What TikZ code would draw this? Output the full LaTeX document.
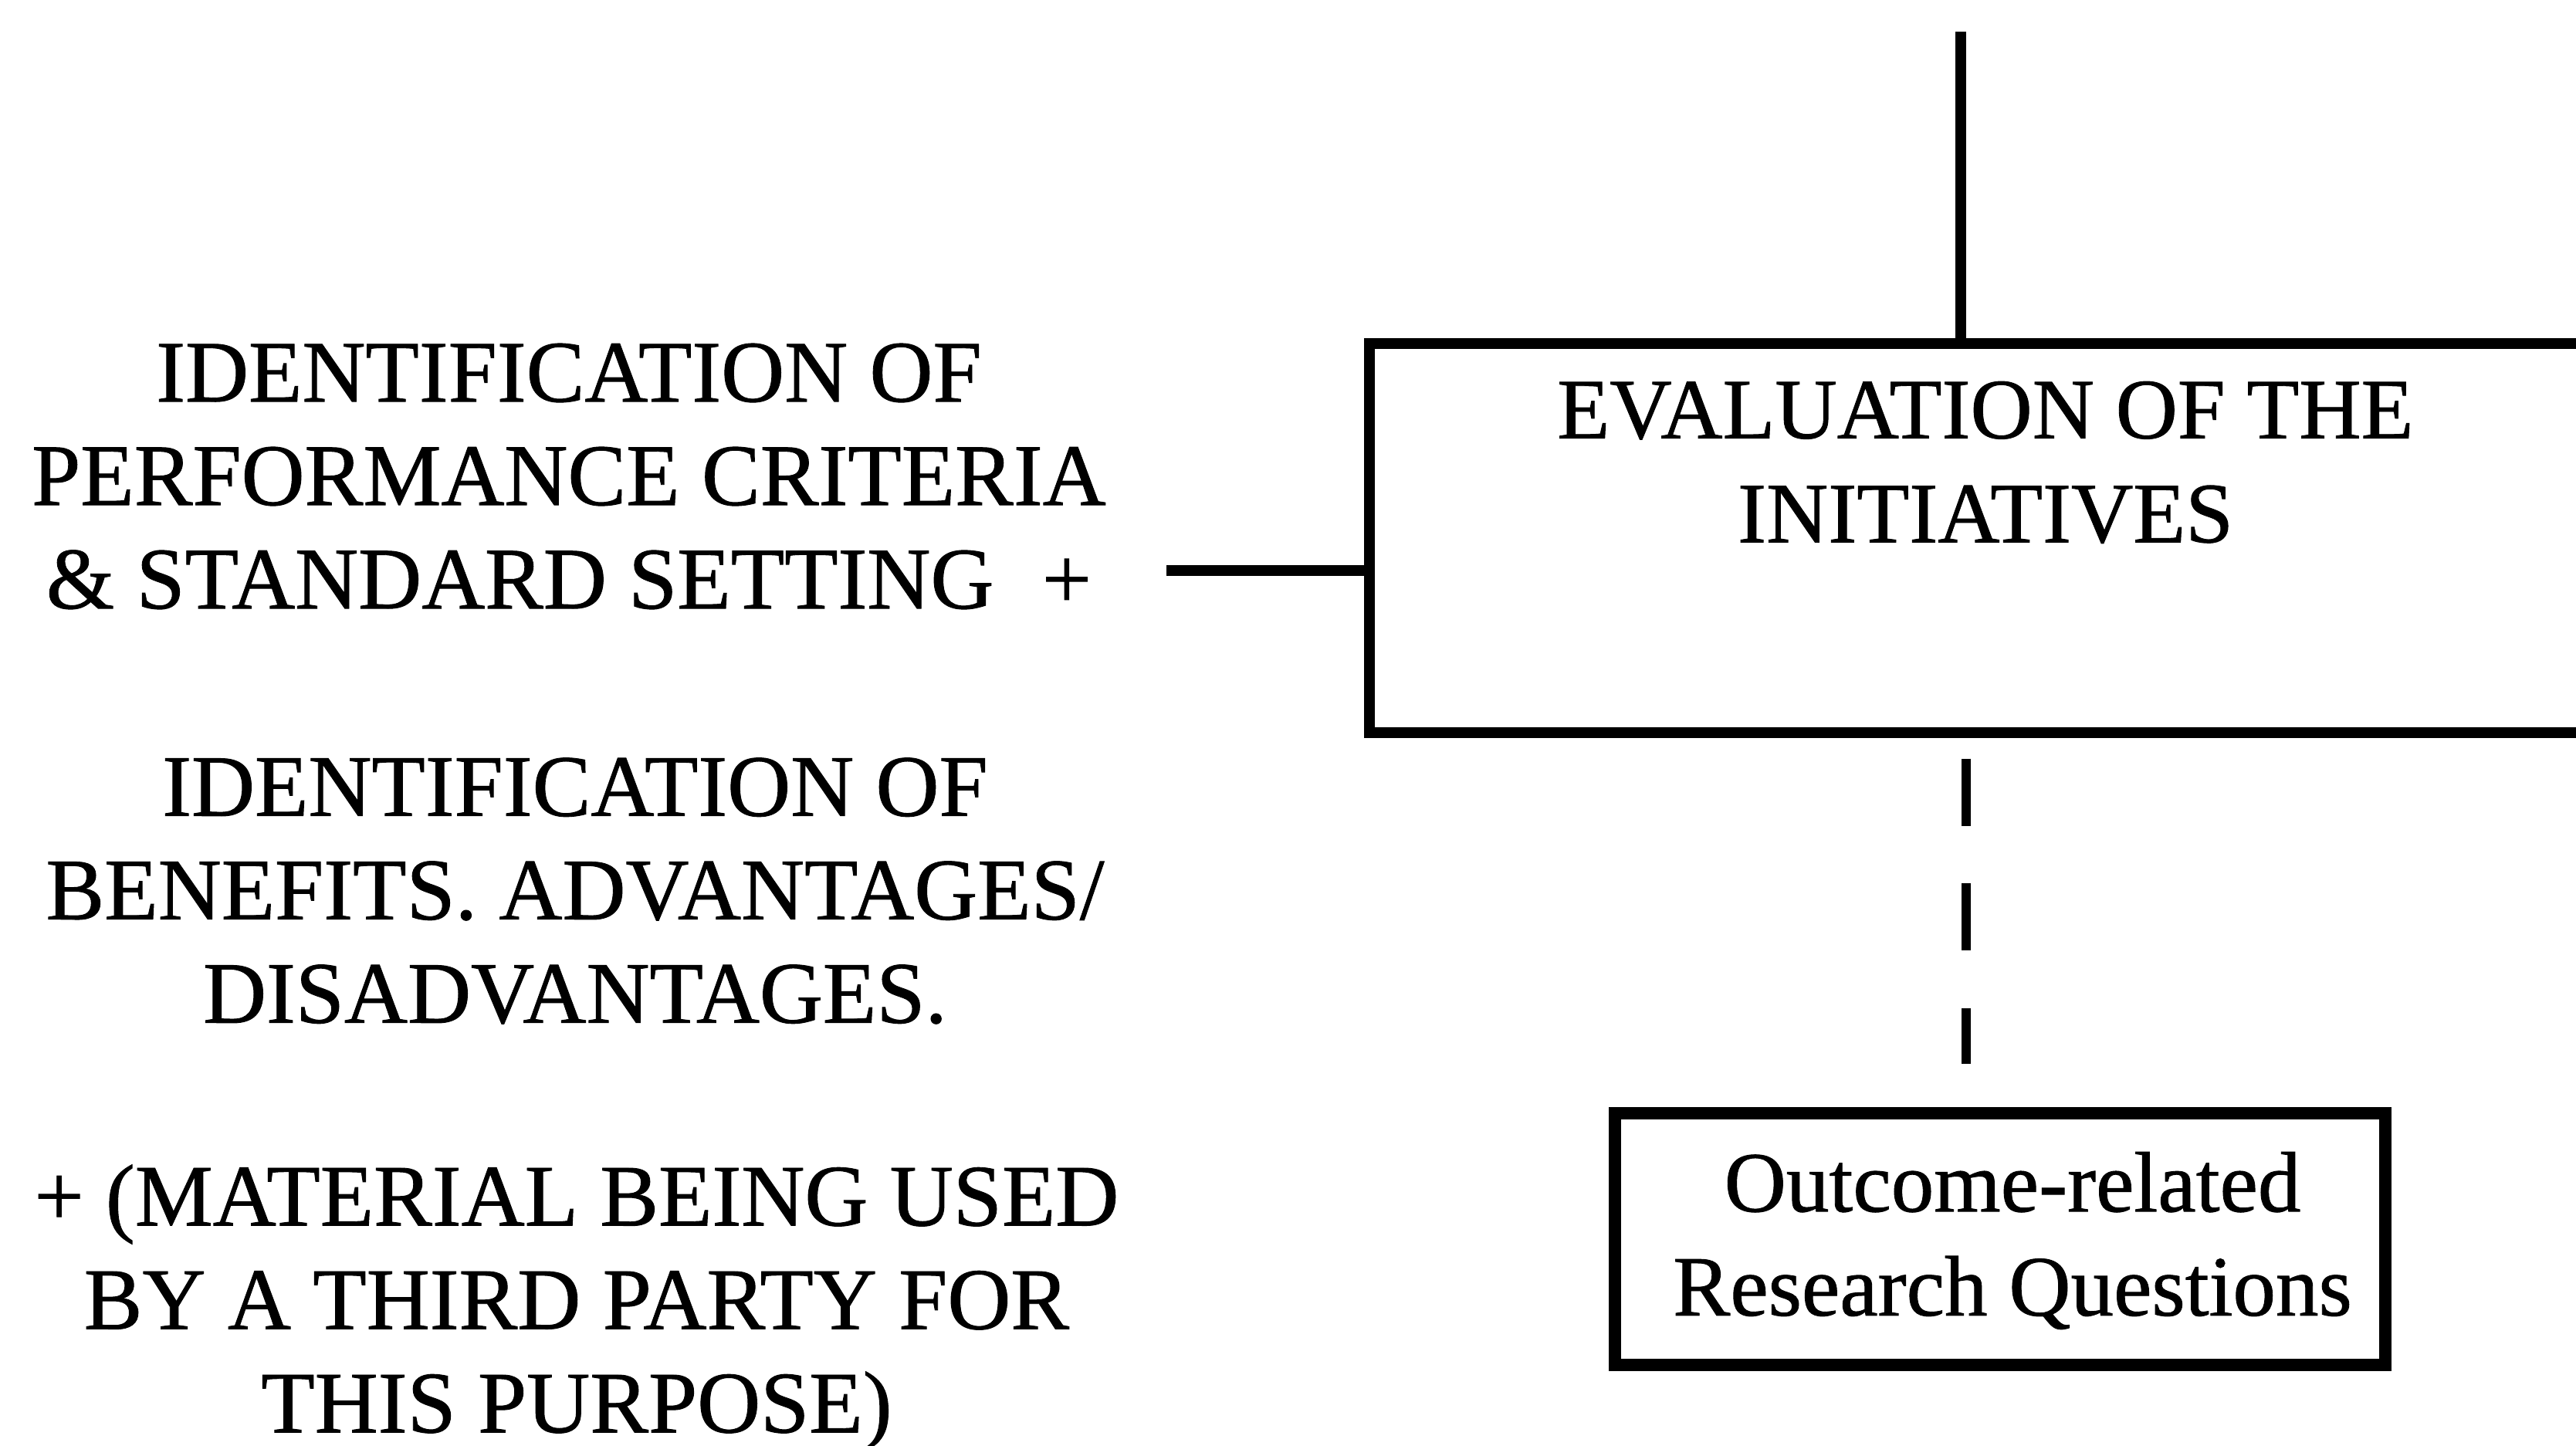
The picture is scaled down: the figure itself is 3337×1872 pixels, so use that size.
\documentclass[tikz,border=0pt]{standalone}
\usepackage{fontspec}
\setmainfont{Liberation Serif}[FakeBold=0.8]
\begin{document}
\begin{tikzpicture}[x=0.01cm,y=-0.01cm,
  sidetext/.style={font=\fontsize{32.3pt}{38.1pt}\selectfont, align=center, inner sep=0pt},
  boxtext/.style={font=\fontsize{31.6pt}{38.3pt}\selectfont, align=center, inner sep=0pt},
  bigframe/.style={draw, line width=4pt, inner sep=0pt},
  smallframe/.style={draw, line width=4.5pt, inner sep=0pt},
  link/.style={line width=3.8pt},
  dashlink/.style={line width=3.6pt, dash pattern=on 0.87cm off 0.745cm}]
\useasboundingbox (0,0) rectangle (3337,1872);
\clip (0,0) rectangle (3337,1872);

% evaluation box (runs off the right edge)
\node[bigframe, minimum width=17.23cm, minimum height=5.03cm] (eval) at (2636,697) {};
\node[boxtext] (evaltext) at (2572,599) {EVALUATION OF THE\\INITIATIVES};

% outcome box
\node[smallframe, minimum width=9.98cm, minimum height=3.26cm] (outcome) at (2591,1605) {};
\node[boxtext] (outcometext) at (2607,1607) {Outcome-related\\Research Questions};

% left-hand notes
\node[sidetext] (criteria) at (737,617) {IDENTIFICATION OF\\PERFORMANCE CRITERIA\\\& STANDARD SETTING\hspace{0.55em}+};
\node[sidetext] (benefits) at (745,1154) {IDENTIFICATION OF\\BENEFITS. ADVANTAGES/\\DISADVANTAGES.};
\node[sidetext] (material) at (747,1694) {+ (MATERIAL BEING USED\\BY A THIRD PARTY FOR\\THIS PURPOSE)};

% connectors
\coordinate (topend) at (2540,41);
\draw[link] (topend) -- (topend |- eval.north);
\coordinate (leftend) at (1511,739);
\draw[link] (leftend) -- (leftend -| eval.west);
\coordinate (dashx) at (2547,0);
\draw[dashlink, shorten <=0.27cm, shorten >=0.56cm] (eval.south -| dashx) -- (outcome.north -| dashx);
\end{tikzpicture}
\end{document}
